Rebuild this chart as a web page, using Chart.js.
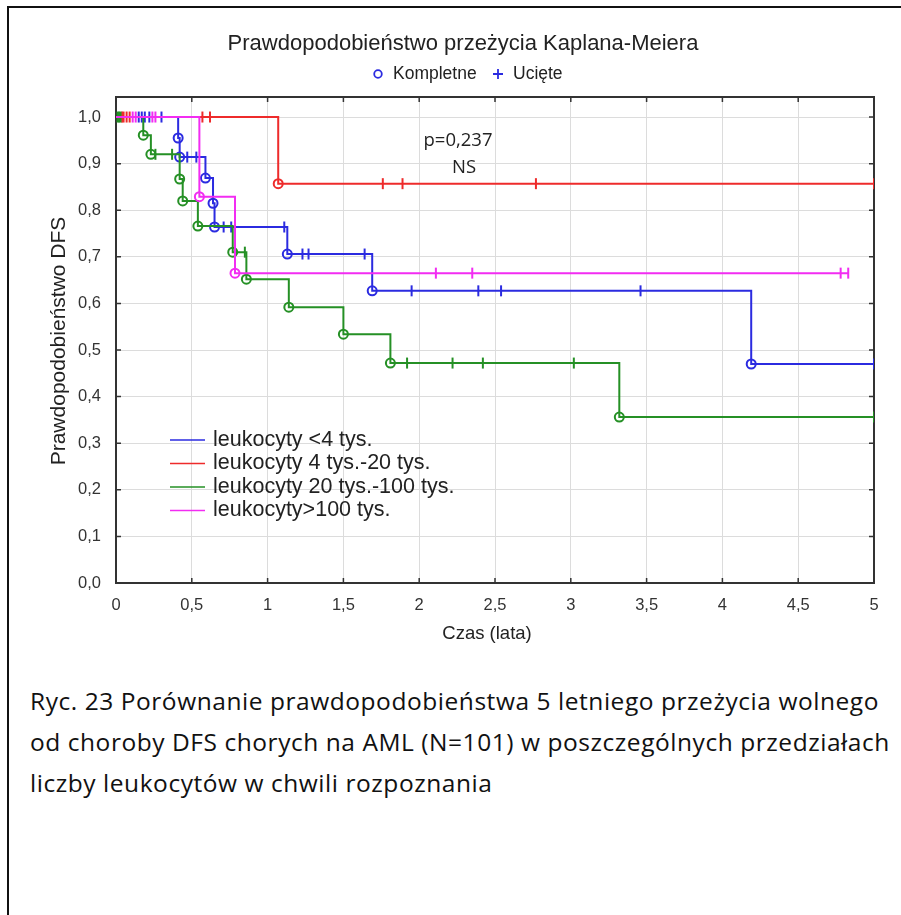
<!DOCTYPE html>
<html>
<head>
<meta charset="utf-8">
<script src="https://cdn.jsdelivr.net/npm/chart.js@4.4.1/dist/chart.umd.min.js"></script>
<style>
  body { margin: 0; background: #fff; width: 901px; height: 915px; overflow: hidden; position: relative; }
  #frame { position: absolute; left: 7px; top: 6px; width: 920px; height: 940px;
           border-left: 2px solid #111; border-top: 2px solid #111; }
  #wrap { position: absolute; left: 0; top: 0; }
  #caption { position: absolute; left: 30px; top: 680px; font-family: "Open Sans", sans-serif;
             font-size: 24.5px; letter-spacing: 0.55px; line-height: 41px; color: #111; white-space: nowrap; }
</style>
</head>
<body>
<div id="frame"></div>
<div id="wrap"><canvas id="km" width="901" height="660"></canvas></div>
<div id="caption">Ryc. 23 Porównanie prawdopodobieństwa 5 letniego przeżycia wolnego<br>od choroby DFS chorych na AML (N=101) w poszczególnych przedziałach<br>liczby leukocytów w chwili rozpoznania</div>
<script>
// axis ticks
var xTicks = [0, 0.5, 1, 1.5, 2, 2.5, 3, 3.5, 4, 4.5, 5];
var yTicks = [0, 0.1, 0.2, 0.3, 0.4, 0.5, 0.6, 0.7, 0.8, 0.9, 1.0];

var groupNames = ['leukocyty <4 tys.', 'leukocyty 4 tys.-20 tys.', 'leukocyty 20 tys.-100 tys.', 'leukocyty>100 tys.'];
var groupColors = ['#2b2be0', '#ee2b2b', '#259025', '#f22cf2'];

// leukocyty <4 tys.
var blueEventT = [0.41, 0.42, 0.59, 0.64, 0.65, 1.13, 1.69, 4.19];
var blueEventS = [0.955, 0.914, 0.869, 0.815, 0.764, 0.706, 0.627, 0.470];
var blueCensT = [0.15, 0.17, 0.19, 0.22, 0.30, 0.47, 0.53, 0.71, 0.76, 1.11, 1.23, 1.27, 1.64, 1.95, 2.39, 2.54, 3.46, 5.0];
var blueEnd = 5.0;

// leukocyty 4 tys.-20 tys.
var redEventT = [1.07];
var redEventS = [0.857];
var redCensT = [0.04, 0.05, 0.07, 0.09, 0.57, 0.62, 1.76, 1.89, 2.77, 5.0];
var redEnd = 5.0;

// leukocyty 20 tys.-100 tys.
var greenEventT = [0.18, 0.23, 0.42, 0.44, 0.54, 0.77, 0.86, 1.14, 1.50, 1.81, 3.32];
var greenEventS = [0.961, 0.920, 0.867, 0.820, 0.766, 0.710, 0.652, 0.592, 0.534, 0.472, 0.356];
var greenCensT = [0.01, 0.02, 0.03, 0.26, 0.37, 0.85, 1.92, 2.22, 2.42, 3.02, 5.0];
var greenEnd = 5.0;

// leukocyty>100 tys.
var magEventT = [0.55, 0.785];
var magEventS = [0.829, 0.665];
var magCensT = [0.11, 0.13, 0.24, 0.26, 2.11, 2.35, 4.78, 4.83];
var magEnd = 4.83;

function survAt(t, ts, ss) {
  var s = 1;
  for (var i = 0; i < ts.length; i++) if (ts[i] <= t) s = ss[i];
  return s;
}

function curve(ts, ss, end, color, order) {
  var pts = [{x: 0, y: 1}];
  ts.forEach(function (t, i) { pts.push({x: t, y: ss[i]}); });
  pts.push({x: end, y: ss[ss.length - 1]});
  return {
    data: pts, showLine: true, stepped: 'before', borderColor: color, borderWidth: 2,
    pointRadius: pts.map(function (p, i) { return (i === 0 || i === pts.length - 1) ? 0 : 4.5; }),
    pointBorderWidth: 2, pointBorderColor: color, pointBackgroundColor: 'rgba(0,0,0,0)',
    order: order
  };
}

function censored(cs, ts, ss, color, order) {
  return {
    data: cs.map(function (t) { return {x: t, y: survAt(t, ts, ss)}; }),
    showLine: false, pointStyle: 'line', rotation: 90, pointRadius: 5.5,
    pointBorderWidth: 2, pointBorderColor: color, order: order
  };
}

var datasets = [
  curve(blueEventT, blueEventS, blueEnd, groupColors[0], 4),
  censored(blueCensT, blueEventT, blueEventS, groupColors[0], 4),
  curve(redEventT, redEventS, redEnd, groupColors[1], 3),
  censored(redCensT, redEventT, redEventS, groupColors[1], 3),
  curve(greenEventT, greenEventS, greenEnd, groupColors[2], 2),
  censored(greenCensT, greenEventT, greenEventS, groupColors[2], 2),
  curve(magEventT, magEventS, magEnd, groupColors[3], 1),
  censored(magCensT, magEventT, magEventS, groupColors[3], 1)
];

var SANS = '"Liberation Sans", Arial, sans-serif';

var decor = {
  id: 'decor',
  beforeDatasetsDraw: function (chart) {
    var c = chart.ctx, a = chart.chartArea, xs = chart.scales.x, ys = chart.scales.y;
    c.save();
    c.strokeStyle = '#333';
    c.lineWidth = 2;
    c.strokeRect(a.left, a.top, a.right - a.left, a.bottom - a.top);
    // inward tick marks
    c.lineWidth = 1.5;
    c.beginPath();
    xTicks.forEach(function (v) {
      var px = xs.getPixelForValue(v);
      c.moveTo(px, a.bottom); c.lineTo(px, a.bottom - 5);
      c.moveTo(px, a.top); c.lineTo(px, a.top + 5);
    });
    yTicks.forEach(function (v) {
      var py = ys.getPixelForValue(v);
      c.moveTo(a.left, py); c.lineTo(a.left + 5, py);
      c.moveTo(a.right, py); c.lineTo(a.right - 5, py);
    });
    c.stroke();
    c.restore();
  },
  afterDraw: function (chart) {
    var c = chart.ctx;
    c.save();
    c.fillStyle = '#222';
    c.textBaseline = 'middle';
    c.textAlign = 'center';
    c.font = '22px ' + SANS;
    c.fillText('Prawdopodobieństwo przeżycia Kaplana-Meiera', 463, 44);

    // top legend
    c.font = '17.5px ' + SANS;
    c.textAlign = 'left';
    c.strokeStyle = groupColors[0];
    c.lineWidth = 1.8;
    c.beginPath(); c.arc(378, 74, 3.8, 0, Math.PI * 2); c.stroke();
    c.fillText('Kompletne', 393, 74);
    c.beginPath(); c.moveTo(493, 74); c.lineTo(503, 74); c.moveTo(498, 69); c.lineTo(498, 79); c.stroke();
    c.fillText('Ucięte', 513, 74);

    // p value
    c.textAlign = 'center';
    c.font = '18.5px "Open Sans", sans-serif';
    c.fillText('p=0,237', 458, 141);
    c.fillText('NS', 464, 168);

    // axis titles
    c.font = '18.5px ' + SANS;
    c.fillText('Czas (lata)', 487, 634);
    c.font = '21px ' + SANS;
    c.save();
    c.translate(59, 341);
    c.rotate(-Math.PI / 2);
    c.fillText('Prawdopodobieństwo DFS', 0, 0);
    c.restore();

    // inner legend
    c.textAlign = 'left';
    c.font = '21.5px ' + SANS;
    groupNames.forEach(function (name, i) {
      var y = 440 + i * 23.5;
      c.strokeStyle = groupColors[i];
      c.lineWidth = 1.5;
      c.beginPath(); c.moveTo(170, y); c.lineTo(205, y); c.stroke();
      c.fillStyle = '#222';
      c.fillText(name, 213, y);
    });
    c.restore();
  }
};

new Chart(document.getElementById('km'), {
  type: 'scatter',
  data: { datasets: datasets },
  options: {
    responsive: false,
    animation: false,
    layout: { padding: { top: 97, right: 27, left: 0, bottom: 0 } },
    plugins: { legend: { display: false }, tooltip: { enabled: false }, title: { display: false } },
    scales: {
      x: {
        type: 'linear', min: 0, max: 5,
        afterBuildTicks: function (s) { s.ticks = xTicks.map(function (v) { return {value: v}; }); },
        afterFit: function (s) { s.height = 77; },
        grid: { color: '#dcdcdc', drawTicks: false },
        border: { display: false },
        ticks: { padding: 13, color: '#333', font: { family: SANS, size: 16.5 },
          callback: function (v) { return String(v).replace('.', ','); } }
      },
      y: {
        type: 'linear', min: 0, max: 1.043,
        afterBuildTicks: function (s) { s.ticks = yTicks.map(function (v) { return {value: v}; }); },
        afterFit: function (s) { s.width = 116; },
        grid: { color: '#dcdcdc', drawTicks: false },
        border: { display: false },
        ticks: { padding: 15, color: '#333', font: { family: SANS, size: 16.5 },
          callback: function (v) { return v.toFixed(1).replace('.', ','); } }
      }
    }
  },
  plugins: [decor]
});
</script>
</body>
</html>
